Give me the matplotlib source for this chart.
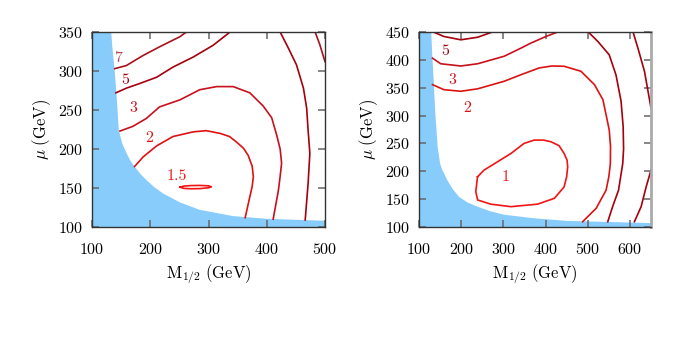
import matplotlib
matplotlib.use('Agg')
import matplotlib.pyplot as plt

plt.rcParams['mathtext.fontset'] = 'cm'
plt.rcParams['font.family'] = ['cmr10', 'DejaVu Serif']
plt.rcParams['axes.formatter.use_mathtext'] = True

# ---------------- Left panel data ----------------
L_xlim = (100, 500)
L_ylim = (100, 350)
L_xticks = [100, 200, 300, 400, 500]
L_yticks = [100, 150, 200, 250, 300, 350]

L_excl_m = [133, 135, 139, 143, 146, 152, 159, 166, 173, 183, 193, 207, 222, 251, 285, 342, 400, 500]
L_excl_mu = [350, 330, 300, 260, 224, 207, 195, 185, 177.5, 168, 160.5, 151, 143, 131.5, 122, 114, 110.5, 108]

L_c7a_m = [139, 159, 188, 216, 251, 262]
L_c7a_mu = [303, 307, 320, 331, 344, 350]
L_c7b_m = [483, 491, 500]
L_c7b_mu = [350, 334, 312]

L_c5a_m = [141, 159, 182, 211, 239, 274, 308, 337]
L_c5a_mu = [272, 278, 284, 292, 305, 318, 333, 350]
L_c5b_m = [423, 437, 451, 463, 468.5, 471, 474, 471, 466]
L_c5b_mu = [350, 329.5, 308, 278, 252.5, 224, 194.5, 156, 109]

L_c3_m = [148, 170, 193, 216, 251, 285, 314, 342.5, 371, 394, 408.5, 417, 423, 425.5, 423, 420, 411]
L_c3_mu = [223, 229, 239, 254, 263, 276, 280, 280, 272, 255, 240, 218, 200, 181.7, 165, 147, 110]

L_c2_m = [173, 188, 211, 239, 274, 296, 320, 336, 348, 360, 368, 375, 377, 375, 371, 363]
L_c2_mu = [177.5, 190, 204, 216, 222, 223.5, 220, 216, 209, 201, 192, 178, 164.5, 152, 139, 112]

L_c15_m = [251, 258, 270, 285, 300, 305, 300, 285, 270, 258, 251]
L_c15_mu = [151, 149.5, 149, 149.2, 150.3, 151.5, 152.8, 153.3, 153.1, 152.5, 151]

L_labels = ['7', '5', '3', '2', '1.5']
L_label_m = [145, 157, 171, 198, 245]
L_label_mu = [316, 288, 252, 214, 165]

# ---------------- Right panel data ----------------
R_xlim = (100, 650)
R_ylim = (100, 450)
R_xticks = [100, 200, 300, 400, 500, 600]
R_yticks = [100, 150, 200, 250, 300, 350, 400, 450]

R_excl_m = [129, 132, 135, 137, 139, 141, 144, 150, 155, 160, 167, 180, 195, 215, 239, 270, 302, 373, 450, 650]
R_excl_mu = [450, 400, 360, 330, 300, 280, 245, 214, 203, 195, 184, 168, 154, 144, 136.5, 128, 122, 115.6, 111, 107]

R_c5a_m = [131, 159, 199, 239, 278]
R_c5a_mu = [451, 442, 436, 440.6, 451]
R_c5b_m = [607, 619, 634.5, 650]
R_c5b_mu = [451, 421, 379.5, 313.6]
R_c5c_m = [650, 638.5, 626.6, 610.7]
R_c5c_mu = [202, 172, 136.5, 109.5]

R_c3a_m = [132, 151.5, 199, 239, 302, 341.6, 365, 401, 432]
R_c3a_mu = [403, 393, 389, 393, 406.5, 421, 430, 442, 451]
R_c3b_m = [500, 524, 551, 567, 579, 584, 585, 583, 573, 559, 547.5]
R_c3b_mu = [451, 433, 409, 373, 326, 280, 240, 214, 166, 136.5, 109.5]

R_c2_m = [132, 159, 199, 239, 302, 342, 385, 415, 444, 484, 516, 536, 543.5, 551, 554, 553.7, 550, 543.5, 520, 488]
R_c2_mu = [355.5, 346.5, 343.6, 348, 361.6, 373.4, 385.5, 389, 388.5, 379.5, 355.5, 328.5, 301.6, 274, 245, 214, 190, 166, 133.6, 109.5]

R_c1_m = [238.7, 254, 286, 318, 349, 373, 395, 413, 432, 444, 451, 452.5, 450, 444, 421, 381, 318, 270, 239, 234.7, 238.7]
R_c1_mu = [190, 202, 217, 232, 250, 256, 256, 253, 246, 232, 220, 208, 190, 172, 151.5, 141, 136.5, 141, 148.5, 163.4, 190]

R_labels = ['5', '3', '2', '1']
R_label_m = [163, 180, 215, 305]
R_label_mu = [415, 364, 314, 190]

# ---------------- styles ----------------
BLUE = '#88ccfc'
COL = {'1': '#f01414', '1.5': '#f01414', '2': '#dc1212', '3': '#c8101c',
       '5': '#a4000e', '7': '#a8101c'}
LCOL = {'1': '#f01414', '1.5': '#f01414', '2': '#dc1212', '3': '#d01020',
        '5': '#a4000e', '7': '#b04858'}
LW = 1.2

fig = plt.figure(figsize=(6.92, 3.37), dpi=100)
axL = fig.add_axes([92 / 692, 1 - 227 / 337, 233 / 692, 195 / 337])
axR = fig.add_axes([419 / 692, 1 - 227 / 337, 232 / 692, 195 / 337])


def style(ax, xlim, ylim, xt, yt):
    ax.set_xlim(*xlim)
    ax.set_ylim(*ylim)
    ax.set_xticks(xt)
    ax.set_yticks(yt)
    ax.tick_params(direction='in', length=5, width=1.1, color='#666666',
                   top=True, right=True, labelsize=11.5)
    ax.tick_params(axis='x', pad=11)
    ax.tick_params(axis='y', pad=6)
    for s in ax.spines.values():
        s.set_color('#333333')
        s.set_linewidth(1.0)
    ax.set_xlabel(r'$\mathrm{M}_{1/2}\ (\mathrm{GeV})$', fontsize=12, labelpad=4)
    ax.set_ylabel(r'$\mu\ (\mathrm{GeV})$', fontsize=12, labelpad=4)


# Left panel
style(axL, L_xlim, L_ylim, L_xticks, L_yticks)
axL.fill([L_xlim[0]] + L_excl_m + [L_xlim[1], L_xlim[0]],
         [L_ylim[1]] + L_excl_mu + [L_ylim[0], L_ylim[0]],
         color=BLUE, lw=0, zorder=1)
for lev, m, mu in [('7', L_c7a_m, L_c7a_mu), ('7', L_c7b_m, L_c7b_mu),
                   ('5', L_c5a_m, L_c5a_mu), ('5', L_c5b_m, L_c5b_mu),
                   ('3', L_c3_m, L_c3_mu), ('2', L_c2_m, L_c2_mu),
                   ('1.5', L_c15_m, L_c15_mu)]:
    axL.plot(m, mu, color=COL[lev], lw=LW, zorder=2)
for t, m, mu in zip(L_labels, L_label_m, L_label_mu):
    axL.text(m, mu, t, color=LCOL[t], fontsize=11.5, ha='center', va='center', zorder=3)

# Right panel
style(axR, R_xlim, R_ylim, R_xticks, R_yticks)
axR.fill([R_xlim[0]] + R_excl_m + [R_xlim[1], R_xlim[0]],
         [R_ylim[1]] + R_excl_mu + [R_ylim[0], R_ylim[0]],
         color=BLUE, lw=0, zorder=1)
for lev, m, mu in [('5', R_c5a_m, R_c5a_mu), ('5', R_c5b_m, R_c5b_mu),
                   ('5', R_c5c_m, R_c5c_mu), ('3', R_c3a_m, R_c3a_mu),
                   ('5', R_c3b_m, R_c3b_mu), ('2', R_c2_m, R_c2_mu),
                   ('1', R_c1_m, R_c1_mu)]:
    axR.plot(m, mu, color=COL[lev], lw=LW, zorder=2)
for t, m, mu in zip(R_labels, R_label_m, R_label_mu):
    axR.text(m, mu, t, color=LCOL[t], fontsize=11.5, ha='center', va='center', zorder=3)
axR.spines['right'].set_color('#aaaaaa')
axR.spines['right'].set_linewidth(2)

fig.savefig('out.png', dpi=100)
